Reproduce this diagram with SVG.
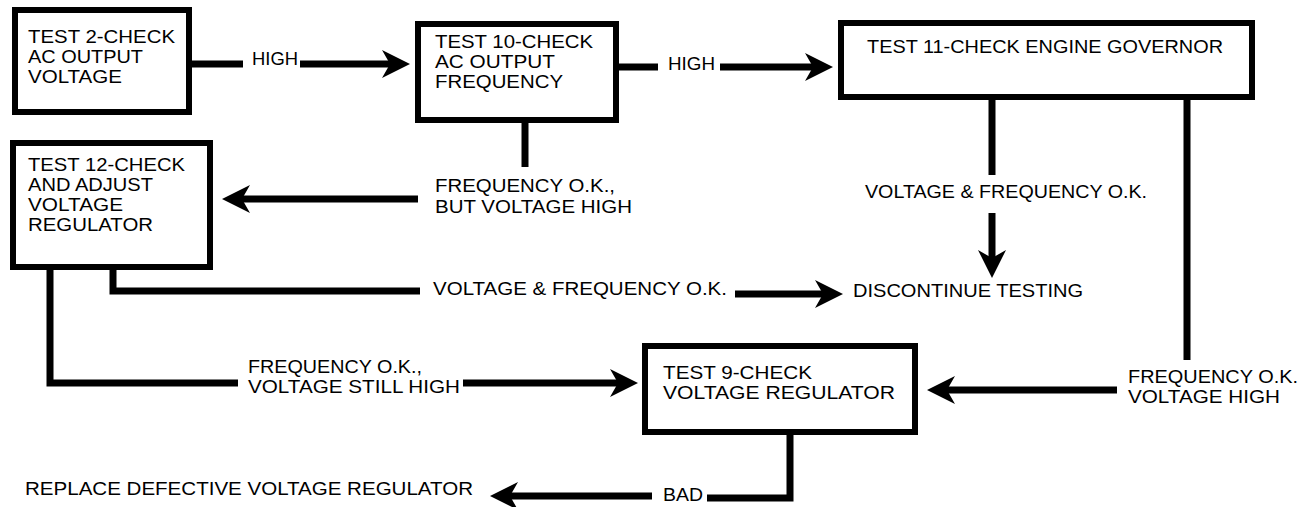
<svg xmlns="http://www.w3.org/2000/svg" width="1315" height="507" viewBox="0 0 1315 507">
<style>
.box{fill:#fff;stroke:#000;stroke-width:6}
.t{font-family:"Liberation Sans",Arial,sans-serif;font-size:19px;fill:#000}
.c{fill:none;stroke:#000;stroke-width:7;stroke-linejoin:miter}
</style>
<defs>
<marker id="ah" markerUnits="userSpaceOnUse" viewBox="0 0 28 28" markerWidth="28" markerHeight="28" refX="8" refY="14" orient="auto">
<path d="M0,0 L28,14 L0,28 L8,14 Z" fill="#000"/>
</marker>
</defs>
<rect width="1315" height="507" fill="#fff"/>
<g id="connectors">
<path class="c" d="M192,64 H243"/>
<path class="c" d="M300,64 H390" marker-end="url(#ah)"/>
<path class="c" d="M619,67 H658"/>
<path class="c" d="M720,67 H813" marker-end="url(#ah)"/>
<path class="c" d="M525,123 V167"/>
<path class="c" d="M418,199 H242" marker-end="url(#ah)"/>
<path class="c" d="M992,100 V175"/>
<path class="c" d="M992,213 V258" marker-end="url(#ah)"/>
<path class="c" d="M1187,100 V360"/>
<path class="c" d="M1117,390 H947" marker-end="url(#ah)"/>
<path class="c" d="M113,270 V291 H420"/>
<path class="c" d="M735,294 H823" marker-end="url(#ah)"/>
<path class="c" d="M50,270 V383 H238"/>
<path class="c" d="M463,383 H618" marker-end="url(#ah)"/>
<path class="c" d="M790,435 V498 H707"/>
<path class="c" d="M652,496 H510" marker-end="url(#ah)"/>
<text class="t" x="252" y="65" textLength="46" lengthAdjust="spacingAndGlyphs">HIGH</text>
<text class="t" x="668" y="70" textLength="47" lengthAdjust="spacingAndGlyphs">HIGH</text>
<text class="t" x="435" y="192" textLength="180" lengthAdjust="spacingAndGlyphs">FREQUENCY O.K.,</text>
<text class="t" x="435" y="213" textLength="197" lengthAdjust="spacingAndGlyphs">BUT VOLTAGE HIGH</text>
<text class="t" x="865" y="198" textLength="282" lengthAdjust="spacingAndGlyphs">VOLTAGE &amp; FREQUENCY O.K.</text>
<text class="t" x="433" y="295" textLength="294" lengthAdjust="spacingAndGlyphs">VOLTAGE &amp; FREQUENCY O.K.</text>
<text class="t" x="248" y="373" textLength="174" lengthAdjust="spacingAndGlyphs">FREQUENCY O.K.,</text>
<text class="t" x="248" y="393" textLength="212" lengthAdjust="spacingAndGlyphs">VOLTAGE STILL HIGH</text>
<text class="t" x="1128" y="383" textLength="170" lengthAdjust="spacingAndGlyphs">FREQUENCY O.K.</text>
<text class="t" x="1128" y="403" textLength="152" lengthAdjust="spacingAndGlyphs">VOLTAGE HIGH</text>
<text class="t" x="663" y="501" textLength="40" lengthAdjust="spacingAndGlyphs">BAD</text>
</g>
<g id="test2">
<rect class="box" x="15" y="10" width="174" height="102"/>
<text class="t" x="28" y="43" textLength="147" lengthAdjust="spacingAndGlyphs">TEST 2-CHECK</text>
<text class="t" x="28" y="63" textLength="115" lengthAdjust="spacingAndGlyphs">AC OUTPUT</text>
<text class="t" x="28" y="83" textLength="94" lengthAdjust="spacingAndGlyphs">VOLTAGE</text>
</g>
<g id="test10">
<rect class="box" x="418" y="24" width="198" height="96"/>
<text class="t" x="435" y="48" textLength="158" lengthAdjust="spacingAndGlyphs">TEST 10-CHECK</text>
<text class="t" x="435" y="68" textLength="120" lengthAdjust="spacingAndGlyphs">AC OUTPUT</text>
<text class="t" x="435" y="88" textLength="128" lengthAdjust="spacingAndGlyphs">FREQUENCY</text>
</g>
<g id="test11">
<rect class="box" x="841" y="23" width="411" height="74"/>
<text class="t" x="867" y="53" textLength="356" lengthAdjust="spacingAndGlyphs">TEST 11-CHECK ENGINE GOVERNOR</text>
</g>
<g id="test12">
<rect class="box" x="13" y="143" width="197" height="124"/>
<text class="t" x="28" y="171" textLength="157" lengthAdjust="spacingAndGlyphs">TEST 12-CHECK</text>
<text class="t" x="28" y="191" textLength="125" lengthAdjust="spacingAndGlyphs">AND ADJUST</text>
<text class="t" x="28" y="211" textLength="95" lengthAdjust="spacingAndGlyphs">VOLTAGE</text>
<text class="t" x="28" y="231" textLength="125" lengthAdjust="spacingAndGlyphs">REGULATOR</text>
</g>
<g id="test9">
<rect class="box" x="645" y="346" width="270" height="86"/>
<text class="t" x="663" y="379" textLength="149" lengthAdjust="spacingAndGlyphs">TEST 9-CHECK</text>
<text class="t" x="663" y="399" textLength="232" lengthAdjust="spacingAndGlyphs">VOLTAGE REGULATOR</text>
</g>
<g id="discontinue">
<text class="t" x="853" y="297" textLength="230" lengthAdjust="spacingAndGlyphs">DISCONTINUE TESTING</text>
</g>
<g id="replace">
<text class="t" x="25" y="495" textLength="448" lengthAdjust="spacingAndGlyphs">REPLACE DEFECTIVE VOLTAGE REGULATOR</text>
</g>
</svg>
